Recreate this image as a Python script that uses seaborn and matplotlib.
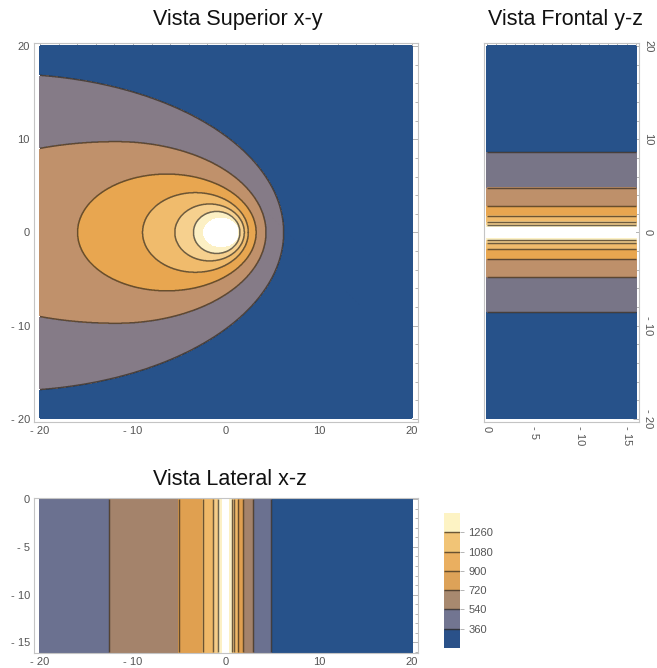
import numpy as np
import pandas as pd
import matplotlib
matplotlib.use("Agg")
import matplotlib.pyplot as plt
from matplotlib.colors import ListedColormap
from matplotlib.ticker import MultipleLocator, FixedLocator
import seaborn as sns

# ---------------- data ----------------
legend_levels = [360, 540, 720, 900, 1080, 1260]

# x-y view: isotherms, outermost first (last one = edge of the white cap)
xy_center_x = [-24.0, -11.8, -6.36, -3.3, -1.77, -1.0, -0.55]
xy_half_left = [30.2, 21.7, 9.6, 5.67, 3.73, 2.5, 1.85]
xy_half_right = [30.2, 16.1, 9.6, 5.7, 3.74, 2.5, 1.85]
xy_half_height = [17.0, 9.74, 6.26, 4.27, 3.05, 2.25, 1.52]

# y-z view: |y| of each band boundary (outermost first)
yz_half_width = [8.6, 4.8, 2.83, 1.8, 1.16, 0.8, 0.6]

# x-z view: left / right x of each band boundary (outermost first)
xz_left = [-25.0, -12.55, -5.07, -2.5, -1.36, -0.83, -0.46]
xz_right = [4.89, 2.94, 1.86, 1.26, 0.89, 0.61, 0.36]

xy_ticks = [-20, -10, 0, 10, 20]
xy_ticklabels = ["- 20", "- 10", "0", "10", "20"]
z_ticks = [0, -5, -10, -15]
z_ticklabels = ["0", "- 5", "- 10", "- 15"]

titles = ["Vista Superior x-y", "Vista Frontal y-z", "Vista Lateral x-z"]

# ---------------- styles ----------------
xy_colors = ["#27528a", "#857b87", "#c0916b", "#e8a650", "#f0bb6c", "#f6d08e", "#fcf0c4", "#ffffff"]
yz_colors = ["#27528a", "#787587", "#be906a", "#e8a650", "#f0bb6c", "#f6d08e", "#fcf0c4", "#ffffff"]
xz_colors = ["#27528a", "#6b7190", "#a4836b", "#e0a050", "#efb868", "#f5cc88", "#fcf0c4", "#ffffff"]
bar_colors = ["#2a5189", "#727591", "#a8896f", "#dda258", "#eaaf60", "#f1c476", "#fdf3c4"]
line_color = "#33291c"
line_alpha = 0.7
line_width = 1.05
frame_color = "#c4c4c4"
tick_color = "#a8a8a8"
label_color = "#555555"

sns.set_theme(style="white")
plt.rcParams["font.family"] = ["Liberation Sans", "DejaVu Sans"]

W, H = 657, 668
fig = plt.figure(figsize=(W / 100, H / 100), dpi=100)
fig.patch.set_facecolor("white")


def px_axes(l, t, w, h):
    return fig.add_axes([l / W, 1 - (t + h) / H, w / W, h / H])


def style_frame(ax):
    for s in ax.spines.values():
        s.set_color(frame_color)
        s.set_linewidth(0.8)
        s.set_visible(True)
    ax.tick_params(which="both", direction="in", top=True, right=True,
                   color=tick_color, width=0.6, labelcolor=label_color,
                   labelsize=8, pad=3)
    ax.tick_params(which="major", length=4)
    ax.tick_params(which="minor", length=2)


fill_levels = np.arange(-0.5, 8.0, 1.0)
line_levels = np.arange(0.5, 6.0, 1.0)

# ---------------- x-y view ----------------
axA = px_axes(33.95, 42.7, 384.1, 379.5)
gx = np.linspace(-20, 20, 1201)
gy = np.linspace(-20, 20, 1201)
X, Y = np.meshgrid(gx, gy)
FA = np.zeros_like(X)
for k in range(len(xy_center_x)):
    dx = X - xy_center_x[k]
    a = np.where(dx < 0, xy_half_left[k], xy_half_right[k])
    inside = (dx / a) ** 2 + (Y / xy_half_height[k]) ** 2 < 1
    FA = np.where(inside, k + 1, FA)
axA.contourf(X, Y, FA, levels=fill_levels, colors=xy_colors)
axA.contour(X, Y, FA, levels=line_levels, colors=line_color,
            linewidths=line_width, alpha=line_alpha)
axA.set_xlim(-20.65, 20.65)
axA.set_ylim(-20.35, 20.35)
style_frame(axA)
axA.xaxis.set_major_locator(FixedLocator(xy_ticks))
axA.yaxis.set_major_locator(FixedLocator(xy_ticks))
axA.set_xticklabels(xy_ticklabels)
axA.set_yticklabels(xy_ticklabels)
axA.xaxis.set_minor_locator(MultipleLocator(2))
axA.yaxis.set_minor_locator(MultipleLocator(2))
axA.set_xlabel("")
axA.set_ylabel("")

# ---------------- y-z view (rotated) ----------------
axB = px_axes(484.2, 42.7, 154.6, 379.5)
gz = np.linspace(0, -16, 401)
Z, YB = np.meshgrid(gz, gy)
FB = np.zeros_like(Z)
for k in range(len(yz_half_width)):
    FB = np.where(np.abs(YB) < yz_half_width[k], k + 1, FB)
axB.contourf(Z, YB, FB, levels=fill_levels, colors=yz_colors)
axB.contour(Z, YB, FB, levels=line_levels, colors=line_color,
            linewidths=line_width, alpha=line_alpha)
axB.set_xlim(0.3, -16.3)
axB.set_ylim(-20.35, 20.35)
style_frame(axB)
axB.xaxis.set_major_locator(FixedLocator(z_ticks))
axB.yaxis.set_major_locator(FixedLocator(xy_ticks))
axB.set_xticklabels(z_ticklabels, rotation=-90)
axB.set_yticklabels(xy_ticklabels, rotation=-90, va="center")
axB.xaxis.set_minor_locator(MultipleLocator(1))
axB.yaxis.set_minor_locator(MultipleLocator(2))
axB.tick_params(axis="y", labelleft=False, labelright=True)

# ---------------- x-z view ----------------
axC = px_axes(33.95, 497.85, 384.1, 155.3)
XC, ZC = np.meshgrid(gx, gz)
FC = np.zeros_like(XC)
for k in range(len(xz_left)):
    FC = np.where((XC > xz_left[k]) & (XC < xz_right[k]), k + 1, FC)
axC.contourf(XC, ZC, FC, levels=fill_levels, colors=xz_colors)
axC.contour(XC, ZC, FC, levels=line_levels, colors=line_color,
            linewidths=line_width, alpha=line_alpha)
axC.set_xlim(-20.65, 20.65)
axC.set_ylim(-16.12, 0.12)
style_frame(axC)
axC.xaxis.set_major_locator(FixedLocator(xy_ticks))
axC.yaxis.set_major_locator(FixedLocator(z_ticks))
axC.set_xticklabels(xy_ticklabels)
axC.set_yticklabels(z_ticklabels)
axC.xaxis.set_minor_locator(MultipleLocator(2))
axC.yaxis.set_minor_locator(MultipleLocator(1))

# ---------------- legend bar ----------------
cax = px_axes(444, 513, 16, 135)
n_bands = len(bar_colors)
bar_df = pd.DataFrame({"band": list(range(n_bands - 1, -1, -1))})
sns.heatmap(bar_df, ax=cax, cmap=ListedColormap(bar_colors), vmin=-0.5,
            vmax=n_bands - 0.5, cbar=False, xticklabels=False, yticklabels=False)
bpos = [n_bands - 1 - i for i in range(len(legend_levels))]
cax.hlines(bpos, 0, 1, colors=line_color, linewidth=line_width, alpha=line_alpha)
cax.yaxis.tick_right()
cax.set_yticks(bpos)
cax.set_yticklabels([str(v) for v in legend_levels], rotation=0)
cax.tick_params(axis="y", right=True, left=False, length=3, width=0.6,
                color=tick_color, labelcolor=label_color, labelsize=8, pad=3)
cax.set_xlabel("")
cax.set_ylabel("")
for s in cax.spines.values():
    s.set_visible(False)

# ---------------- titles ----------------
fig.text(238 / W, 1 - 25 / H, titles[0], ha="center", va="baseline", fontsize=15.5, color="#111111")
fig.text(565 / W, 1 - 25 / H, titles[1], ha="center", va="baseline", fontsize=15.5, color="#111111")
fig.text(230 / W, 1 - 485 / H, titles[2], ha="center", va="baseline", fontsize=15.5, color="#111111")

fig.savefig("out.png", dpi=100, facecolor="white")
